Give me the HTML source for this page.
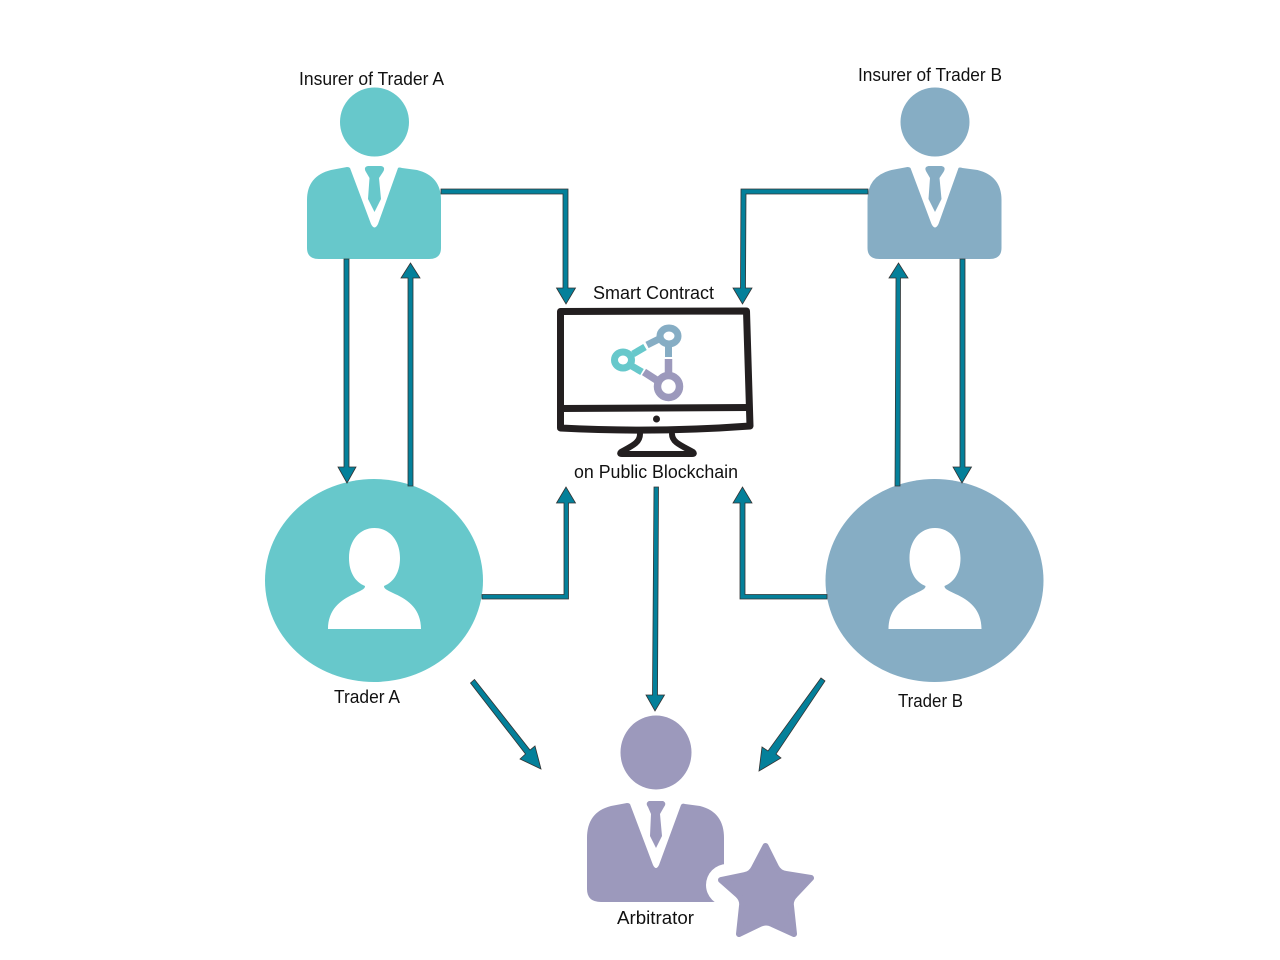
<!DOCTYPE html>
<html><head><meta charset="utf-8"><style>html,body{margin:0;padding:0;background:#fff}svg{display:block}text{font-family:"Liberation Sans",sans-serif;font-size:18px;fill:#111}</style></head>
<body>
<svg width="1280" height="960" viewBox="0 0 1280 960" xmlns="http://www.w3.org/2000/svg">
<defs>
<g id="ins">
<circle cx="374.5" cy="122" r="34.5"/>
<path d="M350 168 L371 224 Q374.5 231 378 224 L398 168 Q399 167 402 168 L417 170 Q441 176 441 200 L441 248 Q441 259 429 259 L319 259 Q307 259 307 248 L307 200 Q307 176 331 170 L347 167 Q349 167 350 168Z"/>
<path d="M368 166 L381 166 Q386 167 383 172 L379 178 L381 199 L374.5 212 L368 199 L369.500 178 L366 172 Q363 167 368 166Z"/>
</g>
<g id="trd">
<ellipse cx="374" cy="580.500" rx="109" ry="101.500"/>
<path fill="#fff" d="M328 629 C328 610 340 600 354 594 C362 590 365 589 365 586 C355 582 349 572 349 558 C349 540 360 528 374.500 528 C389 528 400 540 400 558 C400 572 394 582 384 586 C384 589 387 590 395 594 C409 600 421 610 421 629Z"/>
</g>
</defs>

<g fill="#67c8cb"><use href="#ins"/><use href="#trd"/></g>
<g fill="#86adc4"><use href="#ins" x="560.500"/><use href="#trd" x="560.500"/></g>

<g fill="#9c99bc">
<ellipse cx="656" cy="752.500" rx="35.500" ry="37"/>
<path d="M630 804 L653 865 Q656 871 659 865 L681 805 Q682 803 685 804 L700 806 Q724 812 724 838 L724 890 Q724 902 712 902 L601 902 Q587 902 587 889 L587 838 Q587 812 611 806 L627 803 Q629 803 630 804Z"/>
<path d="M649 801 L663 801 Q667 803 664 807 L660 814 L662 836 L656 848 L650 836 L651 814 L648 807 Q645 803 649 801Z"/>
<circle cx="727" cy="885" r="21" fill="#fff"/>
<path stroke="#9c99bc" stroke-width="6" stroke-linejoin="round" d="M765.500 846 L776 867 Q779 873 786 874 L811 878 L795 895 Q790 900 791 906 L794 934 L772 924 Q766 921 760 924 L739 934 L742 906 Q743 900 738 895 L721 880 L745 875 Q751 874 754 868Z"/>
</g>

<g fill="#04809a" stroke="#333" stroke-width="0.8" stroke-linejoin="miter">
<path d="M441 189 L568 189 L568 288 L575.500 288 L566 304 L556.500 288 L563 288 L563 194 L441 194Z"/>
<path d="M344 259 L349 259 L349 467 L356 467 L347 483 L338 467 L344 467Z"/>
<path d="M408 486 L408 278 L401 278 L410.500 263 L420 278 L413 278 L413 486Z"/>
<path d="M482 594.500 L564 594.500 L564 503 L556.500 503 L566 487 L575.500 503 L568.500 503 L568.500 599 L482 599Z"/>
<path d="M474.500 679.500 L530 750 L535 746 L541 769 L520 759 L525.500 754 L470.500 683Z"/>
<path d="M868 189 L741 189 L740.500 288 L733 288 L742.500 304 L752 288 L745.500 288 L746 194 L868 194Z"/>
<path d="M895 486 L896 278 L889 278 L898.500 263 L908 278 L900.500 278 L900 486Z"/>
<path d="M960 259 L965 259 L965 467 L971.500 467 L962 483 L953 467 L960 467Z"/>
<path d="M827 594.500 L745 594.500 L745 503 L752 503 L742.500 487 L733 503 L740 503 L740 599 L827 599Z"/>
<path d="M654 487 L658.500 487 L657.500 695 L664.500 695 L655 711 L646 695 L652.500 695Z"/>
<path d="M821 678 L825 681 L776 754 L781 758 L759 771 L762 747 L768 751Z"/>
</g>

<g fill="none" stroke="#231f20" stroke-width="7" stroke-linejoin="round" stroke-linecap="round">
<path d="M560.500 311.500 L746.500 311 L750 426 Q655 433 560.500 428Z"/>
<path d="M561 408.500 L749 407.500" stroke-width="7"/>
<path stroke-width="6" d="M640 434 C640 442 634 445 621 452 Q619 454 622 454 L692 454 Q695 454 693 452 C680 445 672 442 672 434"/>
</g>
<circle cx="656.500" cy="419" r="3.500" fill="#231f20"/>

<g fill="none">
<ellipse cx="623" cy="360" rx="8.500" ry="8" stroke="#67c8cb" stroke-width="7"/>
<ellipse cx="669" cy="336" rx="9" ry="8" stroke="#86adc4" stroke-width="7"/>
<circle cx="668.500" cy="386.500" r="11" stroke="#9c99bc" stroke-width="7.500"/>
<path d="M633 354 L645 347 M630 365 L642 372" stroke="#67c8cb" stroke-width="7"/>
<path d="M647 345 L659 339 M668.500 344 L668.500 357" stroke="#86adc4" stroke-width="7"/>
<path d="M668.500 359 L668.500 376 M644 372 L658 381" stroke="#9c99bc" stroke-width="7.500"/>
</g>

<text x="299" y="85" textLength="145" lengthAdjust="spacingAndGlyphs">Insurer of Trader A</text>
<text x="858" y="81" textLength="144" lengthAdjust="spacingAndGlyphs">Insurer of Trader B</text>
<text x="593" y="299" textLength="121" lengthAdjust="spacingAndGlyphs">Smart Contract</text>
<text x="574" y="478" textLength="164" lengthAdjust="spacingAndGlyphs">on Public Blockchain</text>
<text x="334" y="703" textLength="66" lengthAdjust="spacingAndGlyphs">Trader A</text>
<text x="898" y="707" textLength="65" lengthAdjust="spacingAndGlyphs">Trader B</text>
<text x="617" y="924" textLength="77" lengthAdjust="spacingAndGlyphs">Arbitrator</text>
</svg>
</body></html>
